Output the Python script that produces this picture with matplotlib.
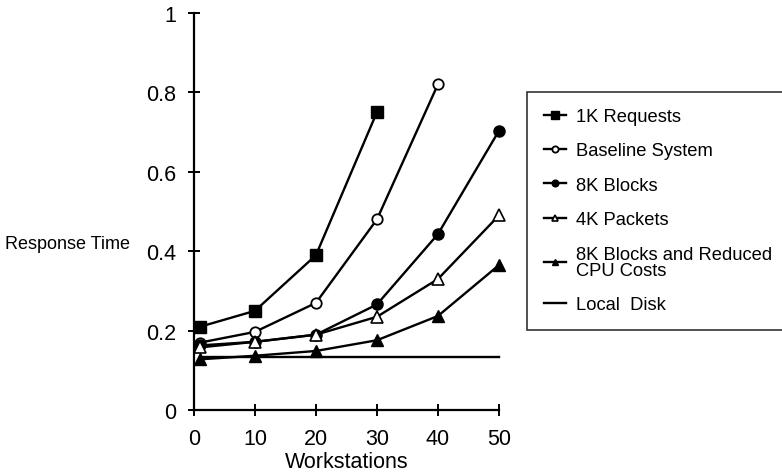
import numpy as np
import matplotlib.pyplot as plt

plt.rcParams['font.family'] = ['Liberation Sans', 'DejaVu Sans']

# data
ws = [1, 10, 20, 30, 40, 50]
req_1k = [0.21, 0.25, 0.39, 0.75]
baseline = [0.17, 0.197, 0.27, 0.48, 0.82]
blocks_8k = [0.163, 0.172, 0.19, 0.266, 0.443, 0.703]
packets_4k = [0.158, 0.172, 0.19, 0.235, 0.33, 0.49]
blocks_cpu = [0.128, 0.137, 0.149, 0.176, 0.237, 0.365]
local_x = [1, 50]
local_disk = [0.134, 0.134]

fig = plt.figure(figsize=(7.82, 4.77), dpi=100)
ax = fig.add_axes([0.248, 0.138, 0.39, 0.833])

lw = 1.7
ax.plot(ws[:4], req_1k, '-s', color='black', lw=lw, ms=8.5, mfc='black',
        label='1K Requests')
ax.plot(ws[:5], baseline, '-o', color='black', lw=lw, ms=7.5, mfc='white',
        mew=1.3, label='Baseline System')
ax.plot(ws, blocks_8k, '-o', color='black', lw=lw, ms=8, mfc='black',
        label='8K Blocks')
ax.plot(ws, packets_4k, '-^', color='black', lw=lw, ms=8, mfc='white',
        mew=1.2, label='4K Packets')
ax.plot(ws, blocks_cpu, '-^', color='black', lw=lw, ms=8, mfc='black',
        label='8K Blocks and Reduced\nCPU Costs')
ax.plot(local_x, local_disk, '-', color='black', lw=lw, label='Local  Disk')

ax.set_xlim(0, 50)
ax.set_ylim(0, 1)
ax.set_xticks([0, 10, 20, 30, 40, 50])
ax.set_yticks([0, 0.2, 0.4, 0.6, 0.8, 1])
ax.set_yticklabels(['0', '0.2', '0.4', '0.6', '0.8', '1'])
for s in ['top', 'right']:
    ax.spines[s].set_visible(False)
for s in ['left', 'bottom']:
    ax.spines[s].set_linewidth(1.6)
ax.tick_params(direction='inout', length=9, width=1.4, labelsize=15.5)
ax.tick_params(axis='x', pad=8)
ax.tick_params(axis='y', pad=8)
ax.set_xlabel('Workstations', fontsize=15.5, labelpad=2)
fig.text(0.086, 0.488, 'Response Time', fontsize=13, ha='center',
         va='center')
for ln in ax.lines:
    ln.set_clip_on(False)

leg = fig.legend(loc='upper left', bbox_to_anchor=(0.674, 0.806),
                 fontsize=13.2, frameon=True, fancybox=False,
                 edgecolor='black', handlelength=1.2, handletextpad=0.55,
                 labelspacing=0.95, borderpad=0.9, markerscale=0.6,
                 borderaxespad=0)
leg.get_frame().set_linewidth(1.2)
for t in leg.get_texts():
    t.set_linespacing(0.95)

fig.savefig('out.png', dpi=100)
